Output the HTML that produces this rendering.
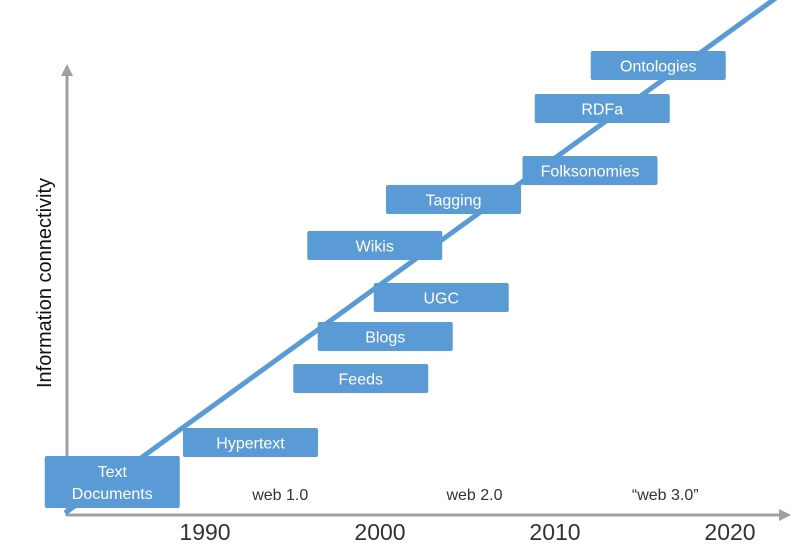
<!DOCTYPE html>
<html><head><meta charset="utf-8"><style>
html,body{margin:0;padding:0;background:#fff;width:809px;height:556px;overflow:hidden}
svg{display:block;font-family:"Liberation Sans",sans-serif}
</style></head><body>
<svg id="chart" width="809" height="556">
<g id="axes"></g><g id="trend"></g><g id="boxes"></g><g id="labels"></g>
</svg>
<script>
const categories=["Text\nDocuments","Hypertext","Feeds","Blogs","UGC","Wikis","Tagging","Folksonomies","RDFa","Ontologies"];
const years=[1984.7,1992.6,1998.9,2000.3,2003.5,1999.7,2004.2,2012.0,2012.7,2015.9];
const levels=[6.6,14.5,27.3,35.7,43.5,53.9,63.1,68.9,81.3,89.9];
const tickLabels=[1990,2000,2010,2020];
const eraLabels=["web 1.0","web 2.0","\u201cweb 3.0\u201d"];
const eraYears=[1994.3,2005.4,2016.3];
const trendYears=[1982.0,2024.0];
const trendLevels=[0.4,106.9];

const xs=y=>205+(y-1990)*17.5;
const ys=v=>515-v*5;
const NS="http://www.w3.org/2000/svg";
function mk(tag,attrs,parent,text){const e=document.createElementNS(NS,tag);for(const k in attrs)e.setAttribute(k,attrs[k]);if(text!==undefined)e.textContent=text;parent.appendChild(e);return e;}
const axes=document.getElementById('axes'),trend=document.getElementById('trend'),boxes=document.getElementById('boxes'),labels=document.getElementById('labels');

let a=mk('line',{x1:67,y1:516,x2:67,y2:74,stroke:'#a0a0a0','stroke-width':3},axes);

a=mk('polygon',{points:'67,64 61,76 73,76',fill:'#a0a0a0'},axes);

a=mk('line',{x1:66,y1:515,x2:780,y2:515,stroke:'#a0a0a0','stroke-width':3},axes);

a=mk('polygon',{points:'791,515 779,509 779,521',fill:'#a0a0a0'},axes);


a=mk('text',{x:51,y:283,transform:'rotate(-90 51 283)','text-anchor':'middle','font-size':20,fill:'#111'},labels,'Information connectivity');


tickLabels.forEach(t=>{const e=mk('text',{x:xs(t),y:540,'text-anchor':'middle','font-size':23,fill:'#333'},labels,String(t));
});
eraLabels.forEach((t,i)=>{const e=mk('text',{x:xs(eraYears[i]),y:500,'text-anchor':'middle','font-size':16,fill:'#333'},labels,t);
});

a=mk('line',{x1:xs(trendYears[0]),y1:ys(trendLevels[0]),x2:xs(trendYears[1]),y2:ys(trendLevels[1]),stroke:'#5b9bd5','stroke-width':5},trend);


categories.forEach((c,i)=>{
 const cx=xs(years[i]),cy=ys(levels[i]);
 const h=i===0?52:29,w=135;
 const g=mk('g',{},boxes);
 
 
 mk('rect',{x:cx-w/2,y:cy-h/2,width:w,height:h,rx:2,fill:'#5b9bd5'},g);
 const lines=c.split('\n');
 lines.forEach((l,j)=>{mk('text',{x:cx,y:cy+6+(j-(lines.length-1)/2)*22,'text-anchor':'middle','font-size':16,fill:'#fff'},g,l);});
});
</script>
</body></html>
